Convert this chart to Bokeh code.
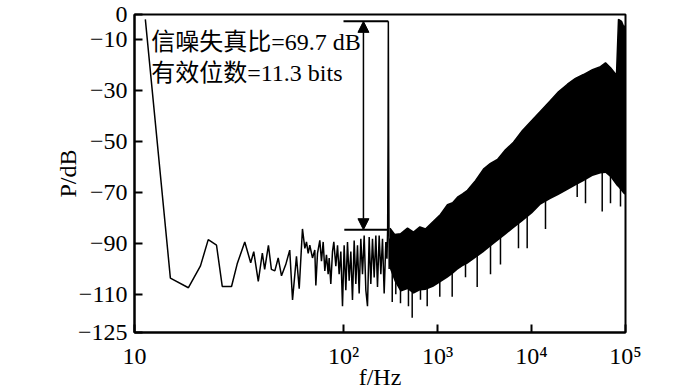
import numpy as np
from bokeh.plotting import figure
from bokeh.models import (FixedTicker, CustomJSTickFormatter, Label, Arrow,
                          NormalHead)
from bokeh.embed import file_html
from bokeh.resources import INLINE

# ---------------- data ----------------
# low-frequency trace + noise up to the fundamental (Hz, dB)
trace_f = [0.78, 1.44, 2.24, 3.01, 3.64, 4.46, 5.13, 6.44, 7.40, 8.91,
           10.3, 11.1, 12.4, 13.7, 14.5, 15.9, 17.1, 18.6, 20.2, 21.9,
           24.3, 26.8, 28.7, 31.6, 33.8, 36.6, 38.8, 40.4, 42.1, 43.8,
           46.8, 49.5, 50.8, 52.9, 56.0, 58.3, 60.8, 63.3, 65.9, 68.7,
           70.4, 73.3, 76.4, 78.9, 82.9, 86.4, 89.9, 93.7, 97.6, 101.6,
           105.9, 110.3, 114.9, 119.7, 124.6, 129.9, 135.3, 140.9, 146.8, 152.9,
           159.3, 166.0, 172.9, 180.0, 187.6, 195.3, 203.5, 212.0, 220.8, 230.0,
           239.6, 249.6, 260.0, 270.8, 282.1, 290.0, 295.0, 298.0, 300.0, 302.0,
           306.0, 312.0]
trace_db = [-1.9, -103.6, -107.4, -98.8, -88.5, -90.7, -106.9, -106.9, -98.0, -89.4,
            -97.6, -93.2, -104.9, -93.8, -100.2, -90.7, -100.2, -100.8, -95.7, -102.7,
            -98.3, -92.6, -112.2, -95.1, -107.8, -84.3, -91.9, -89.4, -93.9, -90.7,
            -95.7, -92.6, -106.5, -93.9, -88.8, -97.0, -89.4, -100.8, -94.5, -102.1,
            -95.7, -105.9, -93.2, -89.4, -98.9, -90.7, -102.1, -93.2, -114.7, -90.7,
            -108.4, -89.4, -104.6, -93.2, -112.2, -88.8, -105.9, -90.7, -109.7, -88.2,
            -102.1, -86.9, -108.4, -114.7, -87.5, -105.9, -88.2, -103.4, -86.9, -107.1,
            -86.9, -102.1, -88.2, -109.7, -89.4, -96.0, -84.0, -47.5, -2.7, -47.5,
            -100.0, -88.0]

# dense noise band above the fundamental: frequency, upper and lower edge (dB)
band_f = [312, 350, 404, 480, 556, 650, 745, 906, 1076, 1277,
          1450, 1633, 1850, 2085, 2535, 3084, 3664, 4350, 5288, 6436,
          8017, 10250, 12470, 15930, 19370, 24150, 29380, 35730, 44570, 54200,
          61260, 69250, 80180, 84270, 90660, 95220, 100000]
band_upper = [-84.0, -86.5, -86.2, -84.0, -85.5, -83.5, -84.3, -81.3, -78.6, -74.8,
              -74.0, -71.8, -70.5, -69.1, -65.3, -60.8, -58.5, -57.0, -53.2, -50.2,
              -45.6, -41.4, -38.0, -33.8, -30.4, -27.4, -25.1, -23.6, -21.7, -20.5,
              -19.0, -20.9, -23.9, -1.9, -2.7, -4.6, -4.6]
band_lower = [-100.0, -105.0, -109.0, -108.0, -109.8, -108.5, -108.3, -107.0, -105.2, -103.5,
              -102.0, -100.3, -99.0, -98.0, -95.7, -93.5, -91.2, -89.0, -86.6, -84.0,
              -81.3, -78.0, -74.8, -72.5, -71.0, -69.0, -67.2, -65.5, -63.5, -62.5,
              -62.3, -64.0, -67.2, -68.0, -69.5, -70.5, -71.0]

# deep downward spikes below the band (Hz, dB at spike tip)
spike_f = [330, 360, 404, 491, 538, 659, 777, 1058, 1433, 1986,
           2644, 3664, 4677, 7270, 8997, 14090, 30630, 37540, 56520, 69250, 88480]
spike_db = [-113.0, -110.0, -113.5, -114.7, -119.2, -112.1, -114.7, -110.9, -110.9, -103.3,
            -107.1, -102.1, -98.3, -91.9, -91.9, -84.3, -71.7, -74.2, -77.4, -74.2, -75.5]

# annotation: SINAD marker
sinad_f = 163.0
sinad_top_db = -2.7
sinad_bot_db = -84.6
bar_f0 = [100.0, 102.0]
bar_f1 = [300.0, 297.0]
bar_db = [-2.7, -84.6]
note_lines = ["信噪失真比=69.7 dB", "有效位数=11.3 bits"]

# axes
x_tick_values = [0.598, 1e2, 1e3, 1e4, 1e5]
x_tick_labels = ["10", "10²", "10³", "10⁴", "10⁵"]
y_tick_values = [0, -10, -30, -50, -70, -90, -110, -125]
y_tick_labels = ["0", "−10", "−30", "−50", "−70", "−90", "−110", "−125"]
x_title = "f/Hz"
y_title = "P/dB"

# ---------------- figure ----------------
SERIF = "Liberation Serif"
MIXED = "'Liberation Serif', 'Noto Sans CJK SC'"

p = figure(width=700, height=392, x_axis_type="log",
           x_range=(x_tick_values[0], x_tick_values[-1]), y_range=(-125, 0),
           output_backend="svg", toolbar_location=None,
           min_border_left=134, min_border_right=75,
           min_border_top=14, min_border_bottom=55)
p.background_fill_color = "white"
p.border_fill_color = "white"
p.grid.visible = False
p.outline_line_color = "black"
p.outline_line_width = 2

fmt_code = """
let best = 0, bd = Infinity;
for (let i = 0; i < tvals.length; i++) {
  const d = Math.abs(tvals[i] - tick);
  if (d < bd) { bd = d; best = i; }
}
return tlabels[best];
"""
xfmt_code = """
let best = 0, bd = Infinity;
for (let i = 0; i < tvals.length; i++) {
  const d = Math.abs(Math.log10(tvals[i]) - Math.log10(tick));
  if (d < bd) { bd = d; best = i; }
}
return tlabels[best];
"""
p.xaxis.ticker = FixedTicker(ticks=x_tick_values)
p.xaxis.formatter = CustomJSTickFormatter(args=dict(tvals=x_tick_values, tlabels=x_tick_labels), code=xfmt_code)
p.yaxis.ticker = FixedTicker(ticks=y_tick_values)
p.yaxis.formatter = CustomJSTickFormatter(args=dict(tvals=y_tick_values, tlabels=y_tick_labels), code=fmt_code)

for ax in (p.xaxis, p.yaxis):
    ax.axis_line_width = 2
    ax.axis_line_color = "black"
    ax.major_tick_in = 8
    ax.major_tick_out = 0
    ax.major_tick_line_width = 2
    ax.major_tick_line_color = "black"
    ax.minor_tick_line_color = None
    ax.major_label_text_font = SERIF
    ax.major_label_text_font_size = "24px"
    ax.major_label_text_color = "black"
    ax.axis_label_text_font = SERIF
    ax.axis_label_text_font_size = "24px"
    ax.axis_label_text_font_style = "normal"
    ax.axis_label_text_color = "black"
p.xaxis.major_label_standoff = 10
p.yaxis.major_label_standoff = 7
p.xaxis.axis_label = x_title
p.yaxis.axis_label = y_title
p.xaxis.axis_label_standoff = -8
p.yaxis.axis_label_standoff = -6

# dense noise band
p.varea(x=band_f, y1=band_lower, y2=band_upper, fill_color="black")
p.line(x=band_f, y=band_upper, line_color="black", line_width=1.5)
# spikes from band lower edge down
lf = np.log10(band_f)
spike_top = np.interp(np.log10(spike_f), lf, band_lower) + 4.0
p.segment(x0=spike_f, y0=spike_top, x1=spike_f, y1=spike_db, line_color="black", line_width=1.5)
# trace
p.line(x=trace_f, y=trace_db, line_color="black", line_width=1.5)

# SINAD marker
p.segment(x0=bar_f0, y0=bar_db, x1=bar_f1, y1=bar_db, line_color="black", line_width=2)
p.add_layout(Arrow(x_start=sinad_f, y_start=sinad_bot_db, x_end=sinad_f, y_end=sinad_top_db,
                   line_color="black", line_width=1.5,
                   start=NormalHead(size=11, fill_color="black", line_color="black"),
                   end=NormalHead(size=11, fill_color="black", line_color="black")))

# text note
note_y = [-11.0, -22.8]
for t, yy in zip(note_lines, note_y):
    p.add_layout(Label(x=0.9, y=yy, text=t, text_font=MIXED, text_font_size="24px",
                       text_baseline="middle", text_align="left", text_color="black"))

open("out.html", "w").write(file_html(p, INLINE))
